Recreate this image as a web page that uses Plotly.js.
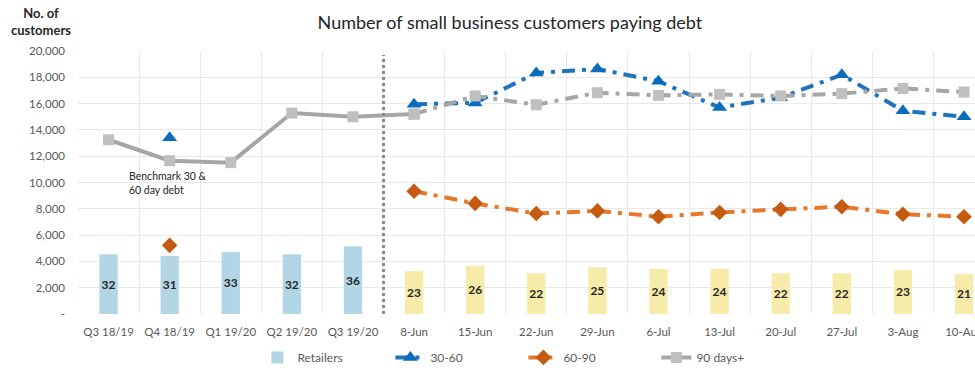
<!DOCTYPE html>
<html>
<head>
<meta charset="utf-8">
<script src="https://cdn.plot.ly/plotly-3.0.1.min.js"></script>
<style>
  html, body { margin: 0; padding: 0; background: #fff; overflow: hidden; }
  #chart { width: 975px; height: 372px; }
</style>
</head>
<body>
<div id="chart"></div>
<script>
// ---- Data ----
const categories = ["Q3 18/19", "Q4 18/19", "Q1 19/20", "Q2 19/20", "Q3 19/20",
  "8-Jun", "15-Jun", "22-Jun", "29-Jun", "6-Jul", "13-Jul", "20-Jul", "27-Jul", "3-Aug", "10-Aug"];

const retailers = [4550, 4420, 4720, 4550, 5150,
  3270, 3670, 3100, 3550, 3420, 3420, 3100, 3100, 3350, 3050];
const retailerLabels = ["32", "31", "33", "32", "36",
  "23", "26", "22", "25", "24", "24", "22", "22", "23", "21"];

const debt30to60 = [null, 13400, null, null, null,
  15950, 16050, 18330, 18630, 17700, 15700, 16450, 18200, 15450, 15000];
const debt60to90 = [null, 5220, null, null, null,
  9340, 8410, 7640, 7840, 7400, 7720, 7960, 8160, 7590, 7400];
const debt90plus = [13250, 11660, 11510, 15280, 15000,
  15200, 16580, 15910, 16830, 16630, 16700, 16580, 16760, 17150, 16880];

const yTickVals = [0, 2000, 4000, 6000, 8000, 10000, 12000, 14000, 16000, 18000, 20000];
const yTickText = ["-", "2,000", "4,000", "6,000", "8,000", "10,000", "12,000", "14,000", "16,000", "18,000", "20,000"];

const splitIndex = 5; // first weekly category

// ---- Derived styling arrays ----
const barColor = categories.map((c, i) => i < splitIndex ? "#b3d6e6" : "#f6eba8");

const gray90Solid = debt90plus.map((v, i) => i <= splitIndex ? v : null);
const gray90Dash = debt90plus.map((v, i) => i >= splitIndex ? v : null);

const FONT = "Lato, 'Open Sans', sans-serif";
const dashPattern = "13px,7px,4px,7px";

const traces = [
  {
    type: "bar", name: "Retailers", x: categories, y: retailers,
    width: 0.3,
    text: retailerLabels, textposition: "inside", insidetextanchor: "middle",
    constraintext: "none", textangle: 0,
    textfont: { family: FONT, size: 12, color: "#262626", weight: "bold" },
    marker: { color: barColor, line: { width: 0 } },
    hoverinfo: "skip"
  },
  {
    type: "scatter", mode: "lines+markers", name: "30-60", x: categories, y: debt30to60,
    line: { color: "#1f72bd", width: 4, dash: dashPattern },
    marker: { symbol: "triangle-up", size: 13, color: "#0a6cbd" },
    connectgaps: false
  },
  {
    type: "scatter", mode: "lines+markers", name: "60-90", x: categories, y: debt60to90,
    line: { color: "#e5782d", width: 4, dash: dashPattern },
    marker: { symbol: "diamond", size: 12, color: "#c55a11" },
    connectgaps: false
  },
  {
    type: "scatter", mode: "lines+markers", name: "90 days+", x: categories, y: gray90Dash,
    line: { color: "#a6a6a6", width: 4, dash: dashPattern },
    marker: { symbol: "square", size: 11, color: "#bfbfbf" },
    showlegend: false, connectgaps: false
  },
  {
    type: "scatter", mode: "lines+markers", name: "90 days+", x: categories, y: gray90Solid,
    line: { color: "#a6a6a6", width: 4 },
    marker: { symbol: "square", size: 11, color: "#bfbfbf" },
    connectgaps: false
  }
];

const layout = {
  width: 975, height: 372,
  margin: { l: 78, r: 0, t: 51, b: 54 },
  paper_bgcolor: "#ffffff", plot_bgcolor: "#ffffff",
  font: { family: FONT, color: "#595959", size: 11 },
  showlegend: true,
  title: {
    text: "Number of small business customers paying debt",
    font: { family: FONT, size: 18, color: "#262626" },
    x: 0.523, xanchor: "center", y: 0.94, yanchor: "middle"
  },
  xaxis: {
    type: "category", range: [-0.5, 14.18],
    tickson: "boundaries", ticks: "",
    showgrid: true, gridcolor: "#e9e9e9", gridwidth: 1,
    showline: false, zeroline: false,
    tickfont: { family: FONT, size: 11.5, color: "#595959" },
    ticklabelstandoff: 9
  },
  yaxis: {
    range: [0, 20000], tickvals: yTickVals, ticktext: yTickText,
    showgrid: true, gridcolor: "#e9e9e9", gridwidth: 1,
    zeroline: false, showline: false, ticks: "",
    tickfont: { family: FONT, size: 11.5, color: "#595959" },
    ticklabelstandoff: 12
  },
  legend: {
    orientation: "h", x: 0.2, xanchor: "left", y: -0.165, yanchor: "middle",
    font: { family: FONT, size: 12, color: "#595959" },
    traceorder: "normal", itemwidth: 30, entrywidth: 88
  },
  shapes: [
    {
      type: "line", xref: "x", yref: "y", x0: 4.5, x1: 4.5, y0: 0, y1: 19700,
      line: { color: "#8c8c8c", width: 3, dash: "dot" }
    }
  ],
  annotations: [
    {
      xref: "paper", yref: "paper", x: -0.041, y: 1.112, xanchor: "center", yanchor: "middle",
      text: "<b>No. of<br>customers</b>", showarrow: false, align: "center",
      font: { family: FONT, size: 13, color: "#262626" }
    },
    {
      xref: "x", yref: "y", x: 0.3, y: 10000, xanchor: "left", yanchor: "middle",
      text: "Benchmark 30 &amp;<br>60 day debt", showarrow: false, align: "left",
      font: { family: FONT, size: 10.5, color: "#262626" }
    }
  ],
  hovermode: false
};

Plotly.newPlot("chart", traces, layout, { displayModeBar: false, staticPlot: true });
</script>
</body>
</html>
